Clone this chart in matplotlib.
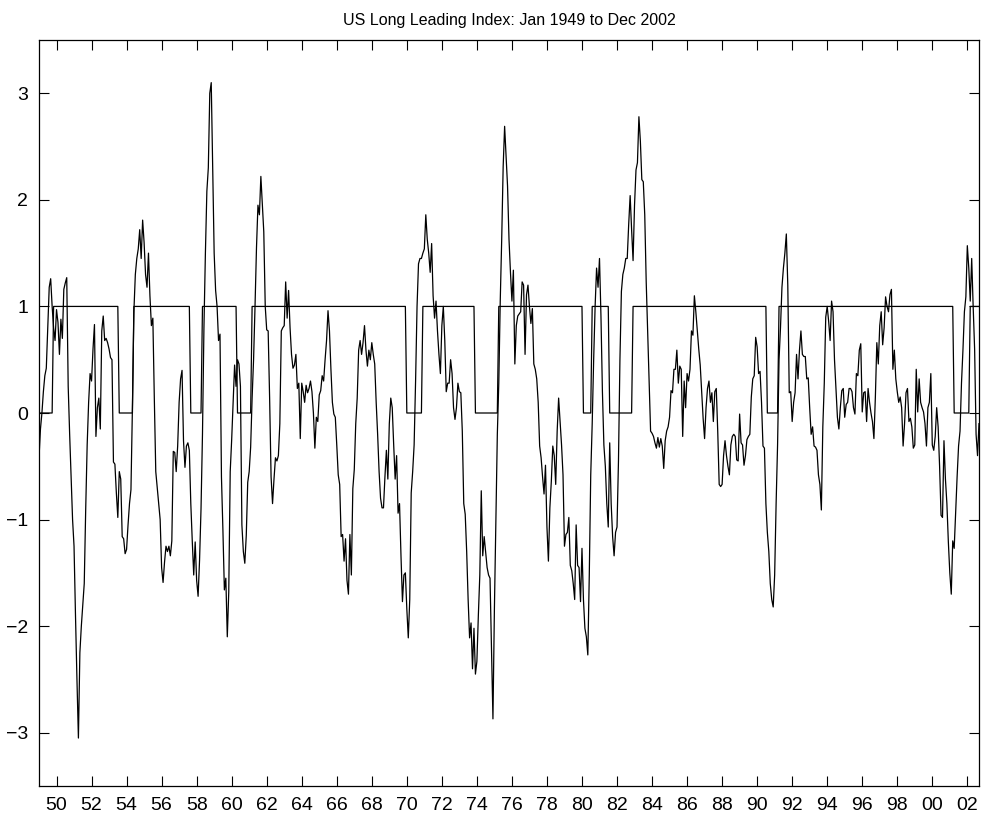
import numpy as np
import matplotlib
matplotlib.use("Agg")
import matplotlib.pyplot as plt

plt.rcParams['font.family'] = ['Liberation Sans', 'DejaVu Sans']

# ---- data: US long leading index, monthly values from Jan 1949 (one row per year)
lli_1949_1958 = [
    -0.42, -0.15, 0.0, 0.2, 0.35, 0.42, 0.8, 1.18, 1.26, 1.0, 0.8, 0.68,
    0.97, 0.85, 0.55, 0.88, 0.7, 1.16, 1.22, 1.27, 0.25, -0.2, -0.6, -1.0,
    -1.25, -1.9, -2.5, -3.05, -2.25, -2.0, -1.8, -1.6, -0.9, -0.3, 0.1, 0.37,
    0.3, 0.6, 0.83, -0.22, 0.05, 0.14, -0.15, 0.77, 0.91, 0.68, 0.7, 0.66,
    0.6, 0.52, 0.5, -0.46, -0.48, -0.75, -0.98, -0.55, -0.62, -1.16, -1.18, -1.32,
    -1.28, -1.05, -0.85, -0.72, 0.05, 0.95, 1.3, 1.45, 1.54, 1.72, 1.45, 1.81,
    1.6, 1.3, 1.18, 1.5, 1.1, 0.82, 0.89, 0.14, -0.55, -0.7, -0.85, -1.0,
    -1.45, -1.59, -1.4, -1.25, -1.3, -1.25, -1.34, -1.2, -0.36, -0.37, -0.55, -0.31,
    0.1, 0.32, 0.4, -0.26, -0.51, -0.31, -0.28, -0.35, -0.85, -1.2, -1.52, -1.21,
    -1.57, -1.72, -1.38, -0.9, -0.2, 0.8, 1.5, 2.08, 2.3, 3.0, 3.1, 2.3,
]
lli_1959_1968 = [
    1.5, 1.15, 1.0, 0.68, 0.74, -0.6, -1.1, -1.66, -1.55, -2.1, -1.68, -0.55,
    -0.25, 0.1, 0.45, 0.25, 0.5, 0.46, 0.25, -1.05, -1.3, -1.41, -1.15, -0.65,
    -0.55, -0.32, 0.14, 0.5, 1.0, 1.55, 1.95, 1.86, 2.22, 1.95, 1.7, 1.0,
    0.78, 0.77, 0.14, -0.6, -0.85, -0.62, -0.42, -0.45, -0.40, -0.1, 0.77, 0.8,
    0.82, 1.23, 0.89, 1.15, 0.8, 0.55, 0.42, 0.45, 0.55, 0.23, 0.28, -0.24,
    0.28, 0.2, 0.10, 0.26, 0.19, 0.23, 0.3, 0.2, 0.0, -0.33, -0.04, -0.08,
    0.17, 0.21, 0.35, 0.3, 0.5, 0.68, 0.96, 0.77, 0.41, 0.1, -0.01, -0.04,
    -0.3, -0.58, -0.67, -1.16, -1.14, -1.39, -1.18, -1.57, -1.70, -1.14, -1.52, -0.71,
    -0.53, -0.1, 0.14, 0.59, 0.68, 0.55, 0.66, 0.82, 0.59, 0.44, 0.59, 0.5,
    0.66, 0.55, 0.46, 0.1, -0.2, -0.55, -0.8, -0.89, -0.89, -0.6, -0.35, -0.62,
]
lli_1969_1978 = [
    -0.1, 0.14, 0.05, -0.3, -0.62, -0.40, -0.94, -0.85, -1.34, -1.77, -1.52, -1.5,
    -1.84, -2.11, -1.75, -0.75, -0.55, -0.3, 0.3, 1.0, 1.4, 1.45, 1.45, 1.5,
    1.54, 1.86, 1.63, 1.5, 1.32, 1.59, 1.1, 0.89, 1.05, 0.77, 0.55, 0.37,
    0.82, 1.0, 0.68, 0.2, 0.28, 0.28, 0.5, 0.37, 0.05, -0.06, 0.05, 0.28,
    0.2, 0.19, -0.17, -0.85, -0.95, -1.3, -1.75, -2.11, -1.97, -2.40, -2.02, -2.45,
    -2.33, -1.9, -1.52, -0.73, -1.34, -1.16, -1.30, -1.45, -1.52, -1.55, -2.2, -2.87,
    -1.84, -1.0, -0.2, 0.28, 1.05, 1.63, 2.31, 2.69, 2.42, 2.13, 1.63, 1.32,
    1.05, 1.34, 0.46, 0.82, 0.91, 0.93, 0.95, 1.23, 1.2, 0.55, 1.11, 1.2,
    1.0, 0.84, 0.98, 0.46, 0.41, 0.32, 0.1, -0.31, -0.42, -0.6, -0.76, -0.49,
    -1.07, -1.39, -0.89, -0.64, -0.31, -0.40, -0.67, -0.17, 0.14, -0.08, -0.3, -0.58,
]
lli_1979_1988 = [
    -1.25, -1.14, -1.12, -0.98, -1.43, -1.48, -1.6, -1.75, -1.05, -1.43, -1.45, -1.77,
    -1.27, -1.75, -2.02, -2.1, -2.27, -1.52, -0.58, -0.1, 0.5, 1.0, 1.36, 1.18,
    1.45, 0.91, 0.2, -0.3, -0.5, -0.85, -1.07, -0.28, -0.85, -1.16, -1.34, -1.12,
    -1.07, -0.45, 0.5, 1.14, 1.3, 1.36, 1.45, 1.45, 1.77, 2.04, 1.72, 1.43,
    1.95, 2.28, 2.35, 2.78, 2.55, 2.19, 2.17, 1.86, 1.23, 0.77, 0.28, -0.17,
    -0.19, -0.22, -0.28, -0.33, -0.23, -0.32, -0.24, -0.31, -0.52, -0.26, -0.17, -0.13,
    -0.04, 0.21, 0.19, 0.41, 0.41, 0.59, 0.28, 0.44, 0.41, -0.22, 0.30, 0.05,
    0.37, 0.30, 0.41, 0.77, 0.73, 1.1, 0.95, 0.77, 0.6, 0.45, 0.2, -0.05,
    -0.24, 0.05, 0.23, 0.30, 0.10, 0.19, -0.08, 0.2, 0.23, -0.17, -0.67, -0.69,
    -0.67, -0.40, -0.26, -0.40, -0.5, -0.58, -0.3, -0.22, -0.2, -0.22, -0.44, -0.45,
]
lli_1989_2002 = [
    -0.01, -0.28, -0.3, -0.49, -0.40, -0.25, -0.22, -0.2, 0.15, 0.32, 0.35, 0.71,
    0.62, 0.37, 0.39, 0.10, -0.31, -0.33, -0.85, -1.12, -1.30, -1.6, -1.75, -1.82,
    -1.52, -0.85, -0.3, 0.5, 0.8, 1.18, 1.36, 1.5, 1.68, 1.2, 0.19, 0.2,
    -0.08, 0.1, 0.19, 0.55, 0.32, 0.59, 0.77, 0.55, 0.53, 0.53, 0.32, 0.33,
    0.05, -0.2, -0.13, -0.31, -0.32, -0.35, -0.58, -0.67, -0.91, -0.13, 0.28, 0.9,
    1.0, 0.86, 0.68, 1.05, 0.95, 0.50, 0.23, -0.04, -0.15, 0.05, 0.21, 0.23,
    -0.04, 0.08, 0.10, 0.23, 0.23, 0.2, 0.05, -0.01, 0.37, 0.35, 0.59, 0.65,
    0.01, 0.19, 0.2, -0.08, 0.23, 0.1, 0.0, -0.08, -0.24, 0.15, 0.66, 0.46,
    0.82, 0.95, 0.64, 0.8, 1.09, 1.0, 0.95, 1.11, 1.16, 0.41, 0.59, 0.32,
    0.2, 0.1, 0.15, 0.05, -0.31, -0.1, 0.19, 0.23, -0.08, -0.05, -0.13, -0.33,
    -0.3, 0.41, 0.01, 0.32, 0.1, 0.05, 0.01, -0.1, -0.31, 0.05, 0.1, 0.37,
    -0.3, -0.35, -0.22, 0.05, -0.13, -0.5, -0.96, -0.98, -0.26, -0.62, -0.85, -1.21,
    -1.5, -1.70, -1.2, -1.27, -0.94, -0.6, -0.31, -0.17, 0.28, 0.59, 0.95, 1.09,
    1.57, 1.36, 1.05, 1.45, 1.0, 0.6, -0.2, -0.4, -0.1,
]

# recession regime (0 during these months, 1 otherwise)
recession_first = ["1949-01", "1953-08", "1957-09", "1960-05", "1970-01",
                   "1973-12", "1980-02", "1981-08", "1990-08", "2001-04"]
recession_last = ["1949-10", "1954-05", "1958-04", "1961-02", "1970-11",
                  "1975-03", "1980-07", "1982-11", "1991-03", "2002-02"]

x_tick_years = list(range(1950, 2003, 2))
y_ticks = [-3, -2, -1, 0, 1, 2, 3]
title_text = "US Long Leading Index: Jan 1949 to Dec 2002"

# ---- build series
lli = np.array(lli_1949_1958 + lli_1959_1968 + lli_1969_1978 + lli_1979_1988 + lli_1989_2002)
n = len(lli)
t = 1949 + np.arange(n) / 12.0


def month_index(s):
    y, m = s.split("-")
    return (int(y) - 1949) * 12 + int(m) - 1


regime = np.ones(n)
for a, b in zip(recession_first, recession_last):
    regime[month_index(a):month_index(b) + 1] = 0

# ---- plot
fig = plt.figure(figsize=(9.85, 8.16), dpi=100)
ax = fig.add_axes([39 / 985, 1 - 786 / 816, (979 - 39) / 985, (786 - 40) / 816])
ax.plot(t, regime, color='black', linewidth=0.9)
ax.plot(t, lli, color='black', linewidth=0.9)

ax.set_xlim(t[0], t[-1])
ax.set_ylim(-3.5, 3.5)
ax.set_xticks(x_tick_years)
ax.set_xticklabels([f"{y % 100:02d}" for y in x_tick_years])
ax.set_yticks(y_ticks)
ax.set_yticklabels([str(v).replace("-", "\u2212") for v in y_ticks])
ax.tick_params(direction='in', length=7, width=0.8, top=True, right=True,
               labelsize=14, pad=8)
for sp in ax.spines.values():
    sp.set_linewidth(0.9)
ax.set_title(title_text, fontsize=11.5, pad=11)

fig.savefig("out.png", dpi=100)
